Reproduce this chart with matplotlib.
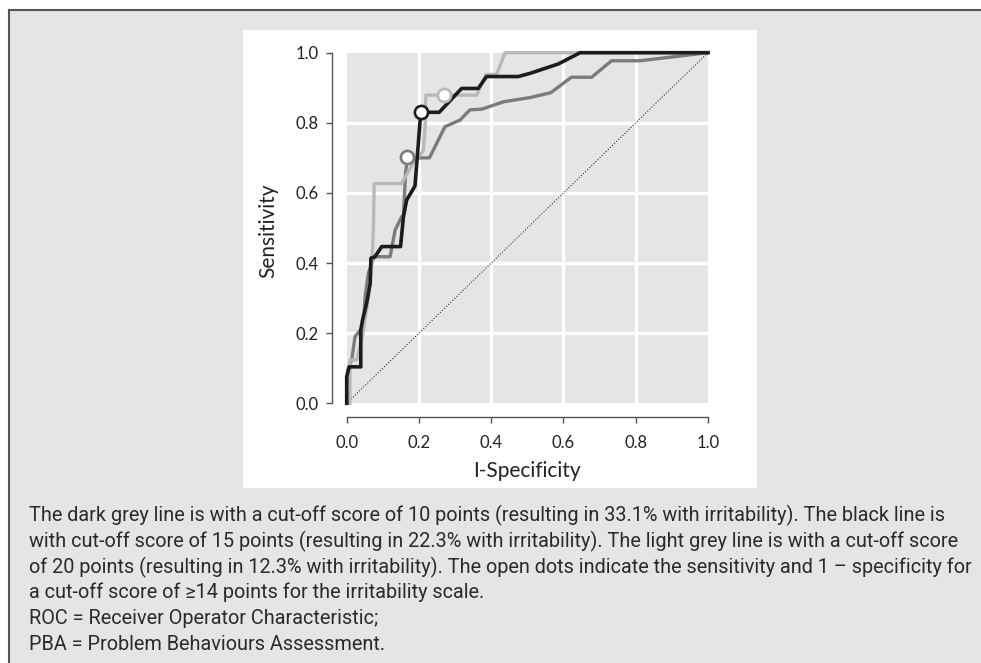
import matplotlib
matplotlib.use("Agg")
import matplotlib.pyplot as plt
from matplotlib.patches import Rectangle
from matplotlib.lines import Line2D

# ---------------- data ----------------
# Dark grey line: cut-off score of 10 points
grey10_x = [0.003, 0.003, 0.014, 0.023, 0.046, 0.051, 0.060, 0.074, 0.083, 0.120, 0.134,
            0.152, 0.157, 0.163, 0.168, 0.229, 0.272, 0.314, 0.341, 0.374, 0.434, 0.507,
            0.565, 0.622, 0.678, 0.733, 0.812, 1.000]
grey10_y = [0.000, 0.095, 0.124, 0.190, 0.219, 0.304, 0.371, 0.414, 0.418, 0.418, 0.494,
            0.532, 0.537, 0.656, 0.700, 0.700, 0.789, 0.808, 0.837, 0.839, 0.860, 0.872,
            0.886, 0.930, 0.930, 0.977, 0.977, 1.000]

# Light grey line: cut-off score of 20 points
grey20_x = [0.009, 0.009, 0.028, 0.045, 0.060, 0.070, 0.074, 0.076, 0.152, 0.184, 0.212,
            0.217, 0.219, 0.360, 0.385, 0.415, 0.438, 1.000]
grey20_y = [0.000, 0.124, 0.124, 0.200, 0.300, 0.400, 0.500, 0.627, 0.627, 0.685, 0.720,
            0.789, 0.879, 0.879, 0.938, 0.938, 1.000, 1.000]

# Black line: cut-off score of 15 points
black15_x = [0.000, 0.000, 0.007, 0.039, 0.039, 0.044, 0.055, 0.065, 0.067, 0.078, 0.097,
             0.149, 0.157, 0.166, 0.189, 0.205, 0.256, 0.318, 0.364, 0.387, 0.475, 0.507,
             0.586, 0.646, 1.000]
black15_y = [0.000, 0.076, 0.104, 0.104, 0.209, 0.238, 0.285, 0.342, 0.414, 0.418, 0.447,
             0.447, 0.532, 0.580, 0.620, 0.830, 0.830, 0.898, 0.898, 0.932, 0.932, 0.941,
             0.968, 1.000, 1.000]

# Open dots: cut-off >= 14 points on the irritability scale
dot_x = [0.168, 0.205, 0.269]
dot_y = [0.702, 0.830, 0.879]

ticks = [0.0, 0.2, 0.4, 0.6, 0.8, 1.0]
tick_labels = ["0.0", "0.2", "0.4", "0.6", "0.8", "1.0"]

caption_lines = [
    "The dark grey line is with a cut-off score of 10 points (resulting in 33.1% with irritability). The black line is",
    "with cut-off score of 15 points (resulting in 22.3% with irritability). The light grey line is with a cut-off score",
    "of 20 points (resulting in 12.3% with irritability). The open dots indicate the sensitivity and 1 \u2013 specificity for",
    "a cut-off score of \u226514 points for the irritability scale.",
    "ROC = Receiver Operator Characteristic;",
    "PBA = Problem Behaviours Assessment.",
]

# ---------------- figure ----------------
W, H = 981, 663
fig = plt.figure(figsize=(W / 100, H / 100), dpi=100)
fig.patch.set_facecolor("white")

def fx(px):
    return px / W

def fy(py):  # py measured from top
    return 1 - py / H

BOX = "#e4e5e7"
# outer box
fig.add_artist(Rectangle((fx(8.5), 0), 1, fy(10), transform=fig.transFigure,
                         facecolor=BOX, edgecolor="none", zorder=-10))
fig.add_artist(Line2D([fx(8.5), fx(8.5)], [0, fy(10)], transform=fig.transFigure,
                      color="#555555", lw=1.5, zorder=-9))
fig.add_artist(Line2D([fx(8.5), 1], [fy(10), fy(10)], transform=fig.transFigure,
                      color="#555555", lw=1.5, zorder=-9))
# white panel
fig.add_artist(Rectangle((fx(243), fy(488)), fx(514), 458 / H, transform=fig.transFigure,
                         facecolor="white", edgecolor="none", zorder=-8))

# axes
x0, x1 = 346.7, 708.0
y1, y0 = 52.7, 403.3
ax = fig.add_axes([fx(x0), fy(y0), fx(x1 - x0), (y0 - y1) / H])
ax.patch.set_visible(False)
ax.set_xlim(0, 1)
ax.set_ylim(0, 1)

ax.add_patch(Rectangle((0, 0), 1, 1, facecolor=BOX, edgecolor="none", zorder=0))
for v in ticks[1:-1]:
    ax.axvline(v, color="white", lw=2.4, zorder=0.5)
    ax.axhline(v, color="white", lw=2.4, zorder=0.5)

ax.plot([0, 1], [0, 1], color="#333333", lw=0.8, linestyle=(0, (1, 1.6)), zorder=1)

ax.plot(grey10_x, grey10_y, color="#7b7b7b", lw=2.4, clip_on=False, zorder=2)
ax.plot(grey20_x, grey20_y, color="#b8b8b8", lw=2.4, clip_on=False, zorder=3)
ax.plot(black15_x, black15_y, color="#1c1c1c", lw=2.6, clip_on=False, zorder=4)

dot_colors = ["#7b7b7b", "#1c1c1c", "#b8b8b8"]
for xx, yy, c in zip(dot_x, dot_y, dot_colors):
    ax.plot([xx], [yy], marker="o", ms=9.5, mfc="white", mec=c, mew=1.9,
            clip_on=False, zorder=5)

for s in ["top", "right"]:
    ax.spines[s].set_visible(False)
ax.spines["left"].set_position(("outward", 10.8))
ax.spines["bottom"].set_position(("outward", 9.9))
ax.spines["left"].set_bounds(0, 1)
ax.spines["bottom"].set_bounds(0, 1)
for s in ["left", "bottom"]:
    ax.spines[s].set_color("#555555")
    ax.spines[s].set_linewidth(1.0)

tick_font = ["Lato", "DejaVu Sans"]
ax.set_xticks(ticks)
ax.set_xticklabels(tick_labels, family=tick_font, fontsize=12, color="#222222")
ax.set_yticks(ticks)
ax.set_yticklabels(tick_labels, family=tick_font, fontsize=12, color="#222222")
ax.tick_params(axis="both", length=4.6, width=1.0, color="#555555")
ax.tick_params(axis="x", pad=8.5)
ax.tick_params(axis="y", pad=5.0)

fig.text(fx(527), fy(476.7), "I-Specificity", family=tick_font, fontsize=15,
         color="#222222", ha="center", va="baseline")
fig.text(fx(268), fy(230.7), "Sensitivity", family=tick_font, fontsize=15,
         color="#222222", ha="center", va="center", rotation=90)

# caption
cap_font = ["Roboto", "DejaVu Sans"]
texts = []
for i, line in enumerate(caption_lines):
    t = fig.text(fx(29), fy(521.7 + i * 25.6), line, family=cap_font, fontsize=13,
                 color="#2a2a2a", ha="left", va="baseline")
    texts.append(t)

fig.canvas.draw()
r = fig.canvas.get_renderer()
w = max(t.get_window_extent(r).width for t in texts[:3])
target = 970 - 29
scale = target / w
for t in texts:
    t.set_fontsize(13 * scale)

fig.savefig("out.png", dpi=100, facecolor=fig.get_facecolor())
